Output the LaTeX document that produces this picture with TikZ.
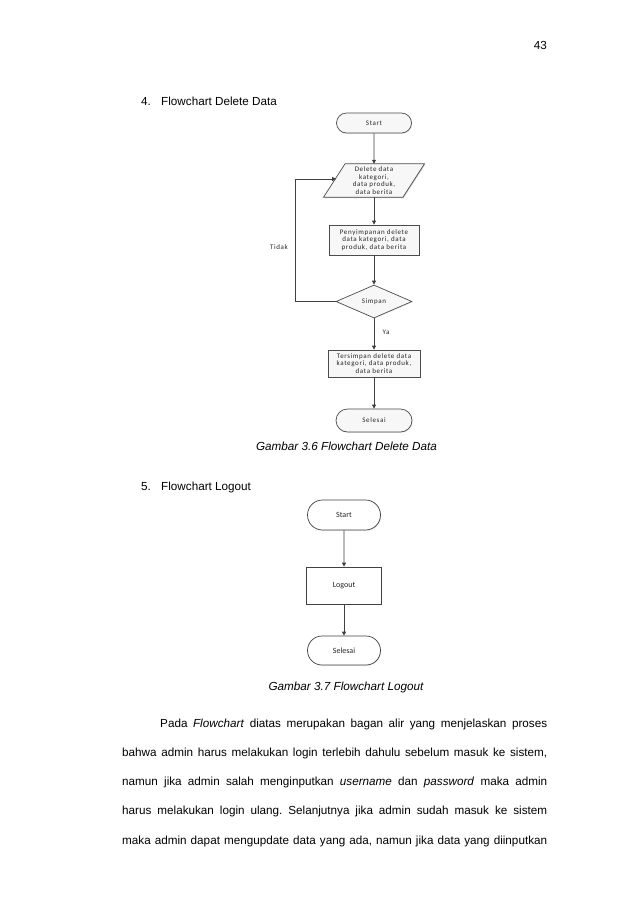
\documentclass[tikz,border=0pt]{standalone}
\usepackage{fontspec}
\setmainfont{Liberation Sans}
\newfontfamily\fcA[LetterSpace=9]{Carlito}
\newfontfamily\fcB{Carlito}
\usetikzlibrary{shapes.misc,shapes.geometric,arrows.meta,shadows,calc}
\frenchspacing
\begin{document}
\begin{tikzpicture}[x=1pt,y=-1pt,
  body/.style={font=\fontsize{11.7}{14}\selectfont, inner sep=0pt},
  conn/.style={draw=black!75, line width=0.8pt, -{Triangle[length=4pt,width=4pt]}},
  shd/.style={drop shadow={shadow xshift=0.8pt, shadow yshift=-0.8pt, opacity=0.18}},
  fcsmall/.style={font=\fcA\fontsize{7}{7.6}\selectfont, align=center, text=black!85},
  fcbig/.style={font=\fcB\fontsize{8}{9}\selectfont, align=center, text=black!85},
  termA/.style={rounded rectangle, draw=black!70, line width=0.7pt, fill=gray!6, shd, inner sep=0pt, fcsmall},
  procA/.style={rectangle, draw=black!70, line width=0.7pt, fill=gray!6, shd, inner sep=0pt, fcsmall},
  decA/.style={diamond, draw=black!70, line width=0.7pt, fill=gray!6, shd, inner sep=0pt, fcsmall},
  termB/.style={rounded rectangle, draw=black!75, line width=0.7pt, fill=white, shd, inner sep=0pt, fcbig},
  procB/.style={rectangle, draw=black!75, line width=0.7pt, fill=white, shd, inner sep=0pt, fcbig},
  lab/.style={fcsmall, inner sep=0pt}
]
\useasboundingbox[fill=white] (0,0) rectangle (638,903);

% page number and headings
\node[body, anchor=base east] (pg) at (547,49) {43};
\node[body, anchor=base west] (h4n) at (141,105) {4.};
\node[body, anchor=base west] (h4) at (161,105) {Flowchart Delete Data};

% ---- Flowchart Delete Data ----
\node[termA, minimum width=75pt, minimum height=20pt] (s1) at (374,123) {Start};
\node[inner sep=0pt, minimum width=79pt, minimum height=33pt, fcsmall] (in) at (374,180.5) {};
\fill[black, opacity=0.18] ([shift={(11.55pt,-0.8pt)}]in.north west) -- ([shift={(11.55pt,-0.8pt)}]in.north east)
   -- ([shift={(-9.95pt,-0.8pt)}]in.south east) -- ([shift={(-9.95pt,-0.8pt)}]in.south west) -- cycle;
\filldraw[draw=black!70, line width=0.7pt, fill=gray!6] ([xshift=10.75pt]in.north west) -- ([xshift=10.75pt]in.north east)
   -- ([xshift=-10.75pt]in.south east) -- ([xshift=-10.75pt]in.south west) -- cycle;
\node[fcsmall, inner sep=0pt] (intext) at (in) {Delete data\\kategori,\\data produk,\\data berita};
\node[procA, minimum width=90pt, minimum height=30pt] (pr1) at (374,240) {Penyimpanan delete\\data kategori, data\\produk, data berita};
\node[decA, minimum width=76pt, minimum height=33pt] (dec) at (374,301.5) {Simpan};
\node[procA, minimum width=92pt, minimum height=27pt] (pr2) at (374,363.5) {Tersimpan delete data\\kategori, data produk,\\data berita};
\node[termA, minimum width=76pt, minimum height=23pt] (e1) at (374,420.5) {Selesai};
\coordinate (inL) at (336.2,179);

\draw[conn] (s1) -- (in);
\draw[conn] (in) -- (pr1);
\draw[conn] (pr1) -- (dec);
\draw[conn] (dec) -- (pr2);
\draw[conn] (pr2) -- (e1);
\draw[conn] (dec.west) -- ++(-40,0) |- (inL);
\node[lab] (tidak) at (279,247) {Tidak};
\node[lab] (ya) at (386,332) {Ya};

\node[body, anchor=base] (cap1) at (346.5,450) {\itshape Gambar 3.6 Flowchart Delete Data};

% ---- Flowchart Logout ----
\node[body, anchor=base west] (h5n) at (141,490) {5.};
\node[body, anchor=base west] (h5) at (161,490) {Flowchart Logout};

\node[termB, minimum width=73pt, minimum height=30pt] (s2) at (344,515) {Start};
\node[procB, minimum width=75pt, minimum height=37pt] (lo) at (344,585.5) {Logout};
\node[termB, minimum width=73pt, minimum height=29pt] (e2) at (344,650.5) {Selesai};
\draw[conn] (s2) -- (lo);
\draw[conn] (lo) -- (e2);

\node[body, anchor=base] (cap2) at (346,690) {\itshape Gambar 3.7 Flowchart Logout};

% ---- paragraph ----
\node[body, anchor=base west] (l1) at (160,727) {\hbox to 387pt{Pada \textit{Flowchart} diatas merupakan bagan alir yang menjelaskan proses}};
\node[body, anchor=base west] (l2) at (122,756.3) {\hbox to 425pt{bahwa admin harus melakukan login terlebih dahulu sebelum masuk ke sistem,}};
\node[body, anchor=base west] (l3) at (122,785.5) {\hbox to 425pt{namun jika admin salah menginputkan \textit{username} dan \textit{password} maka admin}};
\node[body, anchor=base west] (l4) at (122,814.8) {\hbox to 425pt{harus melakukan login ulang. Selanjutnya jika admin sudah masuk ke sistem}};
\node[body, anchor=base west] (l5) at (122,844) {\hbox to 425pt{maka admin dapat mengupdate data yang ada, namun jika data yang diinputkan}};
\end{tikzpicture}
\end{document}
